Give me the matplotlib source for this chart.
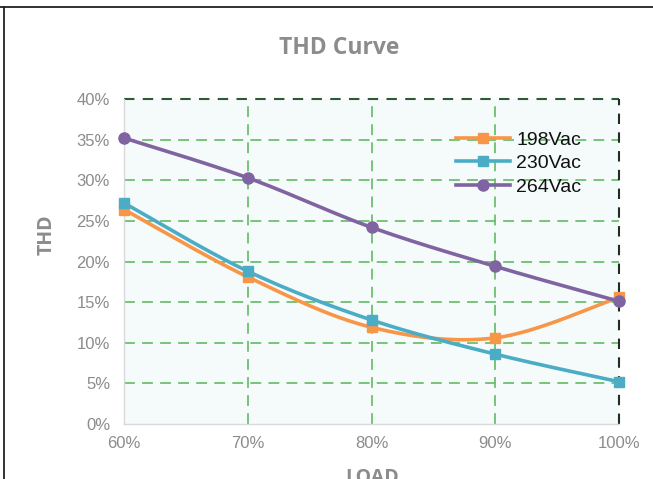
import numpy as np
import matplotlib
matplotlib.use("Agg")
import matplotlib.pyplot as plt
from matplotlib.lines import Line2D

loads = [60, 70, 80, 90, 100]
x_ticklabels = ["60%", "70%", "80%", "90%", "100%"]
y_ticks = [0, 5, 10, 15, 20, 25, 30, 35, 40]
thd_198 = [26.4, 18.1, 11.9, 10.6, 15.6]
thd_230 = [27.2, 18.8, 12.8, 8.6, 5.2]
thd_264 = [35.2, 30.3, 24.2, 19.4, 15.1]
series_names = ["198Vac", "230Vac", "264Vac"]

colors = ["#F79646", "#4BACC6", "#8064A2"]
markers = ["s", "s", "o"]

def smooth(xs, ys, n=40):
    # Catmull-Rom style Bezier smoothing (as in spreadsheet "smoothed line")
    xs = np.asarray(xs, float); ys = np.asarray(ys, float)
    P = np.column_stack([xs, ys])
    Pext = np.vstack([P[0], P, P[-1]])
    out = []
    t = np.linspace(0, 1, n)
    for i in range(len(P) - 1):
        p0, p1, p2, p3 = Pext[i], Pext[i+1], Pext[i+2], Pext[i+3]
        c1 = p1 + (p2 - p0) / 6.0
        c2 = p2 - (p3 - p1) / 6.0
        seg = ((1-t)**3)[:, None]*p1 + (3*(1-t)**2*t)[:, None]*c1 + (3*(1-t)*t**2)[:, None]*c2 + (t**3)[:, None]*p2
        out.append(seg if i == 0 else seg[1:])
    S = np.vstack(out)
    return S[:, 0], S[:, 1]

plt.rcParams['font.family'] = ['Liberation Sans', 'DejaVu Sans']
fig = plt.figure(figsize=(6.53, 4.79), dpi=100)
ax = fig.add_axes([124/653, 1-424/479, (619-124)/653, (424-99)/479])
ax.set_facecolor("#f5fafb")

ax.set_xlim(60, 100)
ax.set_ylim(0, 40)

# grid
for xv in [70, 80, 90]:
    ax.axvline(xv, color="#6dbf6f", lw=1.3, ls=(0, (6, 4)), zorder=1)
for yv in [5, 10, 15, 20, 25, 30, 35]:
    ax.axhline(yv, color="#6dbf6f", lw=1.3, ls=(0, (6, 4)), zorder=1)
ax.axhline(40, color="#2d5a33", lw=1.5, ls=(0, (5, 4)), zorder=1, clip_on=False)
ax.axvline(100, color="#1e2e22", lw=1.5, ls=(0, (5, 4)), zorder=1, clip_on=False)

for ys, c, m, name in zip([thd_198, thd_230, thd_264], colors, markers, series_names):
    sx, sy = smooth(loads, ys)
    ax.plot(sx, sy, color=c, lw=2.6, zorder=3, clip_on=False, solid_capstyle='round')
    ax.plot(loads, ys, ls='none', marker=m, ms=7.5 if m == 's' else 8, color=c, zorder=4, clip_on=False)

handles = [Line2D([0], [0], color=c, lw=2.6, marker=m, ms=7.5 if m == 's' else 8) for c, m in zip(colors, markers)]
leg = ax.legend(handles, series_names, loc='upper left', bbox_to_anchor=((456-124)/495, 1-(131-99)/325),
                frameon=False, fontsize=14, handlelength=2.8, handletextpad=0.3, labelspacing=0.3,
                borderaxespad=0, borderpad=0)
for t in leg.get_texts():
    t.set_color("#111111")

for s in ['top', 'right']:
    ax.spines[s].set_visible(False)
for s in ['left', 'bottom']:
    ax.spines[s].set_color("#d9d9d9")
    ax.spines[s].set_linewidth(1.0)

ax.set_xticks(loads)
ax.set_xticklabels(x_ticklabels)
ax.set_yticks(y_ticks)
ax.set_yticklabels([f"{v}%" for v in y_ticks])
ax.tick_params(length=0, labelsize=12, colors="#8c8c8c", pad=9)
ax.tick_params(axis='y', pad=10)

fig.text(339/653, 1-47.5/479, "THD Curve", ha='center', va='center', fontsize=16.5,
         fontweight='bold', color="#8c8c8c", family=['Open Sans', 'DejaVu Sans'])
fig.text(47/653, 1-235/479, "THD", ha='center', va='center', rotation=90, fontsize=14,
         fontweight='bold', color="#8c8c8c", family=['Open Sans', 'DejaVu Sans'])
fig.text(372/653, 1-478/479, "LOAD", ha='center', va='center', fontsize=14,
         fontweight='bold', color="#8c8c8c", family=['Open Sans', 'DejaVu Sans'])

# outer frame lines
fig.add_artist(Line2D([0, 1], [1-6.5/479, 1-6.5/479], transform=fig.transFigure, color="#222222", lw=1.3))
fig.add_artist(Line2D([4/653, 4/653], [0, 1-6.5/479], transform=fig.transFigure, color="#222222", lw=1.3))

fig.savefig("out.png", dpi=100)
